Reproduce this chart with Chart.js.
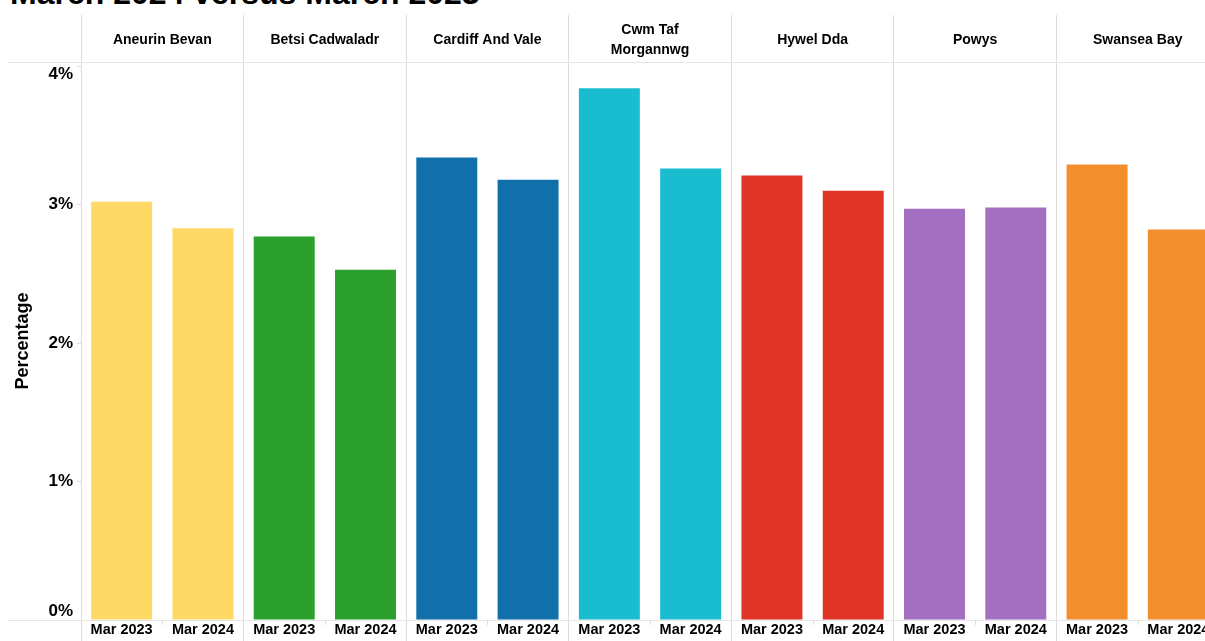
<!DOCTYPE html>
<html>
<head>
<meta charset="utf-8">
<script src="https://cdn.jsdelivr.net/npm/chart.js@4/dist/chart.umd.min.js"></script>
<style>
  html, body { margin: 0; padding: 0; background: #fff; overflow: hidden; width: 1205px; height: 641px; }
  #title { position: absolute; left: 10px; top: -23px; font: bold 32px "Liberation Sans", Arial, sans-serif; line-height: 32px; color: #000; white-space: nowrap; }
  #wrap { position: absolute; left: 0; top: 0; width: 1220px; height: 641px; }
</style>
</head>
<body>
<div id="title">March 2024 versus March 2023</div>
<div id="wrap"><canvas id="c"></canvas></div>
<script>
  // Health boards (panels) and the two periods shown in each
  var boards = ['Aneurin Bevan', 'Betsi Cadwaladr', 'Cardiff And Vale', ['Cwm Taf', 'Morgannwg'], 'Hywel Dda', 'Powys', 'Swansea Bay'];
  var periods = ['Mar 2023', 'Mar 2024'];
  var boardColors = ['#fed966', '#2ca02c', '#1170aa', '#19bdcf', '#e03426', '#a36fc1', '#f28e2b'];

  // percentages
  var mar2023 = [3.02, 2.77, 3.34, 3.84, 3.21, 2.97, 3.29];
  var mar2024 = [2.83, 2.53, 3.18, 3.26, 3.10, 2.98, 2.82];

  var yTicks = [0, 1, 2, 3, 4];

  var labels = [], values = [], colors = [];
  boards.forEach(function (b, i) {
    labels.push(periods[0], periods[1]);
    values.push(mar2023[i], mar2024[i]);
    colors.push(boardColors[i], boardColors[i]);
  });

  var FONT = '"Liberation Sans", Arial, sans-serif';
  var GRID = '#dddddd';

  // horizontal rules at the top and bottom of the plot, running into the axis gutter
  var frameLines = {
    id: 'frameLines',
    afterDraw: function (chart) {
      var ctx = chart.ctx, a = chart.chartArea;
      ctx.save();
      ctx.strokeStyle = '#e6e6e6';
      ctx.lineWidth = 1;
      ctx.beginPath();
      ctx.moveTo(8, a.top + 0.5); ctx.lineTo(chart.width, a.top + 0.5);
      ctx.moveTo(8, a.bottom + 0.5); ctx.lineTo(chart.width, a.bottom + 0.5);
      ctx.stroke();
      // small ticks between the two bars of a panel
      var x = chart.scales.x;
      ctx.strokeStyle = GRID;
      ctx.beginPath();
      for (var i = 1; i < labels.length; i += 2) {
        var px = Math.round((x.getPixelForTick(i - 1) + x.getPixelForTick(i)) / 2) + 0.5;
        ctx.moveTo(px, a.bottom); ctx.lineTo(px, a.bottom + 5);
      }
      ctx.stroke();
      ctx.restore();
    }
  };

  new Chart(document.getElementById('c'), {
    type: 'bar',
    data: {
      labels: labels,
      datasets: [{
        data: values,
        backgroundColor: colors,
        borderWidth: 0,
        categoryPercentage: 1,
        barPercentage: 0.75
      }]
    },
    options: {
      responsive: true,
      maintainAspectRatio: false,
      animation: false,
      layout: { padding: { top: 15, right: 1, left: 0, bottom: 0 } },
      plugins: { legend: { display: false }, tooltip: { enabled: false } },
      scales: {
        x: {
          position: 'bottom',
          afterFit: function (s) { s.height = 21; },
          grid: {
            offset: true,
            drawOnChartArea: false,
            tickLength: 21,
            tickColor: function (c) { return c.index % 2 === 0 ? GRID : 'rgba(0,0,0,0)'; }
          },
          border: { display: false },
          ticks: {
            color: '#000',
            padding: -19.5,
            maxRotation: 0,
            autoSkip: false,
            font: { family: FONT, size: 14.5, weight: 'bold' }
          }
        },
        x2: {
          type: 'category',
          position: 'top',
          labels: boards,
          afterFit: function (s) { s.height = 47; },
          grid: { offset: true, color: GRID, tickColor: GRID, tickLength: 47, drawOnChartArea: true },
          border: { display: false },
          ticks: {
            color: '#000',
            padding: -35,
            crossAlign: 'center',
            maxRotation: 0,
            autoSkip: false,
            font: { family: FONT, size: 14, weight: 'bold', lineHeight: 1.43 }
          }
        },
        y: {
          min: 0,
          max: 4.03,
          afterFit: function (s) { s.width = 81; s.paddingTop = 0; s.paddingBottom = 0; },
          afterBuildTicks: function (s) { s.ticks = yTicks.map(function (v) { return { value: v }; }); },
          grid: { drawOnChartArea: false, tickLength: 4, color: GRID },
          border: { display: false },
          ticks: {
            color: '#000',
            padding: 4,
            font: { family: FONT, size: 17, weight: 'bold', lineHeight: 1.0 },
            // end labels sit inside the plot, like the original
            callback: function (v) {
              if (v === yTicks[0]) return [v + '%', ''];
              if (v === yTicks[yTicks.length - 1]) return ['', v + '%'];
              return v + '%';
            }
          },
          title: {
            display: true,
            text: 'Percentage',
            color: '#000',
            padding: { top: 12, bottom: 0 },
            font: { family: FONT, size: 18, weight: 'bold' }
          }
        }
      }
    },
    plugins: [frameLines]
  });
</script>
</body>
</html>
